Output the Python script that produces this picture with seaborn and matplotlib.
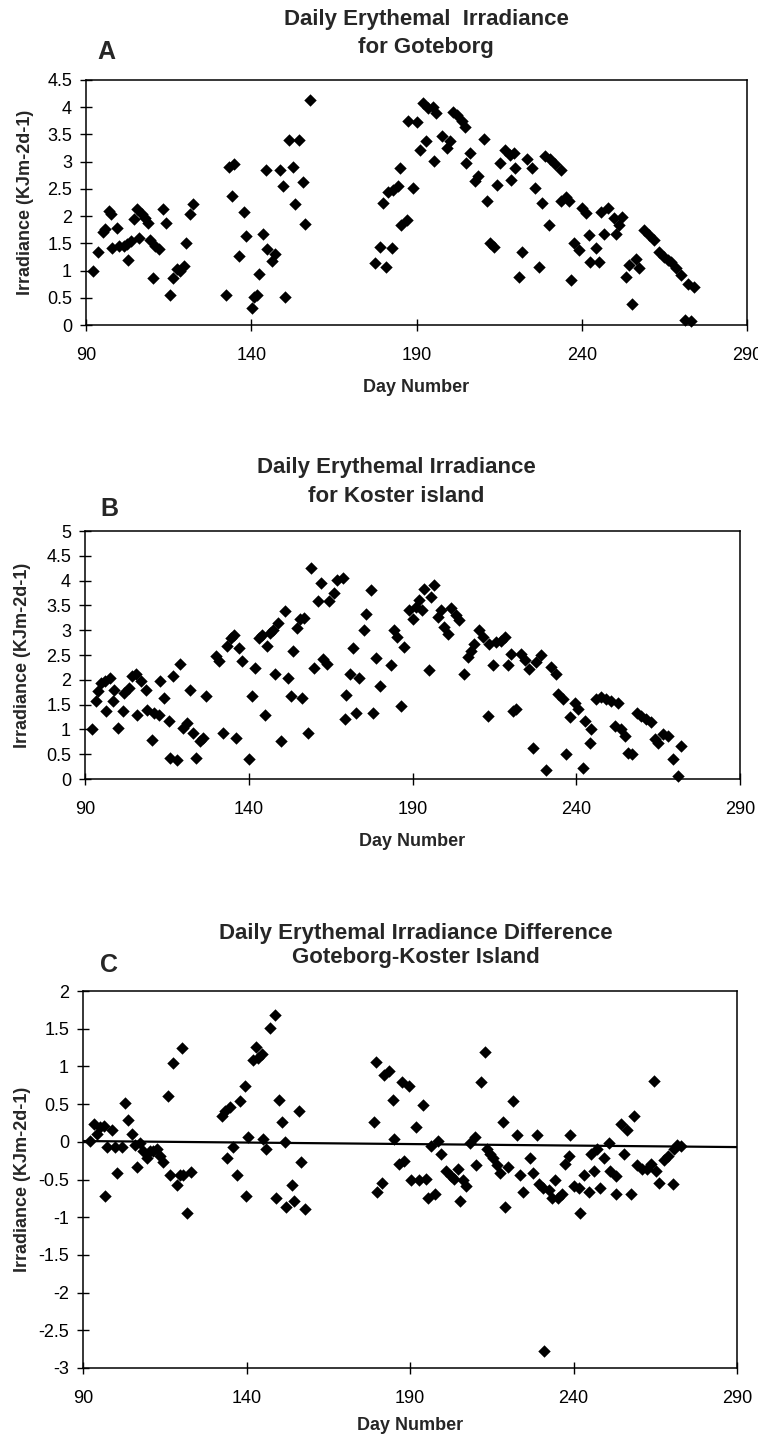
import matplotlib
matplotlib.use("Agg")
import matplotlib.pyplot as plt
import seaborn as sns

# ---- Goteborg daily erythemal irradiance (KJ m-2 d-1) ----
goteborg_day = [
    92.0, 93.5, 95.0, 95.7, 97.0, 97.5, 98.0, 99.5, 100.0, 101.5, 102.5, 102.8,
    103.5, 104.5, 105.5, 106.0, 107.0, 108.0, 108.7, 109.4, 110.4, 111.0, 112.0,
    113.4, 114.2, 115.4, 116.4, 117.4, 118.4, 119.7, 120.4, 121.4, 122.4,
    132.3, 133.3, 134.3, 134.8, 136.3, 137.8, 138.5, 140.3, 140.8, 141.8, 142.3,
    143.5, 144.5, 144.8, 146.3, 147.3, 148.6, 149.6, 150.3, 151.3, 152.7, 153.2,
    154.5, 155.7, 156.2, 157.7,
    177.3, 178.9, 179.9, 180.9, 181.4, 182.6, 182.9, 184.4, 184.9, 185.4, 187.0,
    187.5, 189.0, 190.0, 191.0, 192.0, 193.0, 193.5, 195.0, 195.3, 196.0, 197.6,
    199.1, 200.1, 201.1, 202.2, 203.7, 204.7, 204.9, 206.2, 207.7, 208.7, 210.3,
    211.3, 212.3, 213.3, 214.3, 215.3, 216.8, 218.4, 218.6, 219.4, 219.9, 220.9,
    221.9, 223.4, 224.9, 226.0, 227.0, 228.0, 229.0, 230.0, 230.5, 232.0, 233.6,
    233.8, 235.1, 236.1, 236.6, 237.6, 239.1, 240.2, 241.2, 242.2, 242.4, 244.2,
    245.2, 245.7, 246.7, 247.8, 249.8, 250.3, 251.3, 252.3, 253.3, 254.3, 255.3,
    256.4, 257.4, 258.9, 260.4, 261.9, 263.5, 265.0, 266.0, 267.0, 268.5, 270.0,
    271.1, 272.1, 273.1, 274.1,
]
goteborg_irr = [
    1.00, 1.34, 1.70, 1.76, 2.10, 2.03, 1.42, 1.79, 1.45, 1.45, 1.48, 1.20,
    1.54, 1.94, 2.13, 1.60, 2.03, 1.97, 1.88, 1.57, 0.86, 1.45, 1.39,
    2.13, 1.88, 0.56, 0.86, 1.02, 0.99, 1.08, 1.51, 2.03, 2.22,
    0.56, 2.90, 2.37, 2.95, 1.26, 2.07, 1.63, 0.31, 0.52, 0.56, 0.94,
    1.68, 2.84, 1.39, 1.17, 1.30, 2.84, 2.56, 0.51, 3.39, 2.90, 2.22,
    3.39, 2.63, 1.85, 4.14,
    1.13, 1.44, 2.24, 1.07, 2.45, 1.41, 2.48, 2.55, 2.89, 1.84, 1.93,
    3.75, 2.52, 3.72, 3.22, 4.08, 3.38, 3.98, 4.00, 3.01, 3.90, 3.47,
    3.26, 3.38, 3.92, 3.85, 3.75, 3.63, 2.98, 3.16, 2.64, 2.73, 3.41,
    2.27, 1.50, 1.44, 2.58, 2.98, 3.22, 3.13, 2.67, 3.16, 2.89, 0.88,
    1.34, 3.04, 2.89, 2.52, 1.07, 2.24, 3.10, 1.84, 3.04, 2.95, 2.85,
    2.27, 2.36, 2.27, 0.82, 1.50, 1.37, 2.15, 2.05, 1.65, 1.16, 1.41,
    1.16, 2.08, 1.68, 2.15, 1.96, 1.68, 1.84, 1.99, 0.88, 1.10, 0.39,
    1.22, 1.04, 1.74, 1.65, 1.56, 1.34, 1.25, 1.19, 1.16, 1.04, 0.91,
    0.10, 0.76, 0.07, 0.69,
]

# ---- Koster island daily erythemal irradiance (KJ m-2 d-1) ----
koster_day = [
    92.0, 93.5, 94.0, 95.0, 96.0, 96.5, 97.5, 98.5, 99.0, 100.0, 101.5, 102.0,
    103.5, 104.5, 105.5, 106.0, 107.0, 108.6, 109.0, 110.6, 111.0, 112.6, 113.0,
    114.0, 115.6, 116.0, 117.0, 118.0, 119.0, 119.9, 121.0, 122.0, 123.0, 124.0,
    125.0, 126.0, 127.0, 130.0, 131.0, 132.0, 133.5, 134.5, 135.5, 136.0, 137.0,
    138.0, 140.0, 141.0, 142.0, 143.0, 144.0, 145.0, 145.5, 146.5, 147.5, 148.0,
    149.0, 149.8, 151.0, 152.0, 153.0, 153.6, 154.6, 155.6, 156.2, 157.0, 158.0,
    159.0, 160.0, 161.0, 162.0, 162.7, 164.0, 164.6, 166.0, 167.0, 168.8, 169.3,
    169.8, 170.8, 171.8, 172.8, 173.8, 175.3, 175.8, 177.3, 177.8, 178.8, 180.0,
    183.4, 184.4, 185.4, 186.4, 187.4, 189.0, 190.0, 191.0, 192.0, 193.0, 193.6,
    195.1, 195.6, 196.6, 197.7, 198.7, 199.7, 200.7, 201.7, 203.3, 204.3, 205.8,
    206.8, 207.9, 208.9, 210.4, 211.4, 213.0, 213.5, 214.5, 215.5, 217.0, 218.1,
    219.1, 220.1, 220.6, 221.6, 223.2, 224.2, 225.7, 226.7, 227.8, 229.3, 230.8,
    232.3, 233.9, 234.4, 235.9, 236.9, 238.0, 239.5, 240.5, 242.0, 242.6, 244.1,
    244.6, 246.1, 247.7, 249.2, 250.7, 251.7, 252.8, 253.8, 254.8, 255.8, 256.9,
    258.4, 259.9, 261.4, 262.9, 264.0, 265.0, 266.5, 268.1, 269.6, 271.1, 272.1,
]
koster_irr = [
    1.00, 1.57, 1.77, 1.94, 1.97, 1.37, 2.04, 1.57, 1.80, 1.03, 1.37, 1.74,
    1.84, 2.07, 2.11, 1.30, 1.97, 1.80, 1.40, 0.79, 1.33, 1.30, 1.97,
    1.64, 1.16, 0.42, 2.07, 0.39, 2.31, 1.03, 1.13, 1.80, 0.93, 0.42,
    0.76, 0.83, 1.67, 2.48, 2.38, 0.93, 2.68, 2.85, 2.91, 0.83, 2.64,
    2.38, 0.40, 1.67, 2.24, 2.85, 2.91, 1.30, 2.68, 2.95, 3.01, 2.11,
    3.15, 0.76, 3.38, 2.04, 1.67, 2.58, 3.05, 3.22, 1.64, 3.25, 0.93,
    4.26, 2.24, 3.59, 3.96, 2.41, 2.31, 3.59, 3.76, 4.02, 4.06, 1.20,
    1.70, 2.11, 2.64, 1.33, 2.04, 3.01, 3.32, 3.82, 1.33, 2.44, 1.88,
    2.30, 3.00, 2.86, 1.48, 2.66, 3.40, 3.23, 3.47, 3.61, 3.40, 3.84,
    2.19, 3.67, 3.92, 3.27, 3.40, 3.06, 2.93, 3.44, 3.30, 3.20, 2.12,
    2.46, 2.59, 2.73, 3.00, 2.86, 1.27, 2.73, 2.29, 2.76, 2.79, 2.86,
    2.29, 2.52, 1.38, 1.41, 2.52, 2.39, 2.22, 0.63, 2.36, 2.49, 0.19,
    2.25, 2.12, 1.71, 1.61, 0.50, 1.24, 1.54, 1.41, 0.23, 1.17, 0.73,
    1.00, 1.61, 1.65, 1.61, 1.58, 1.07, 1.54, 1.00, 0.87, 0.53, 0.50,
    1.34, 1.27, 1.21, 1.14, 0.80, 0.73, 0.90, 0.87, 0.40, 0.06, 0.67,
]

# ---- Goteborg minus Koster island (KJ m-2 d-1) ----
diff_day = [
    92.2, 93.3, 94.3, 95.3, 96.3, 96.6, 97.3, 98.8, 99.9, 100.4, 101.9, 102.9,
    103.9, 104.9, 106.0, 106.5, 107.5, 108.5, 109.5, 110.5, 111.5, 112.6, 113.6,
    114.6, 116.1, 116.6, 117.6, 118.7, 119.7, 120.2, 120.7, 121.7, 122.9,
    132.4, 133.4, 133.9, 134.9, 136.0, 137.0, 138.0, 139.5, 139.8, 140.5, 142.0,
    143.0, 143.6, 144.6, 145.1, 146.1, 147.3, 148.6, 148.9, 150.0, 151.0, 151.7,
    152.2, 153.8, 154.4, 156.1, 156.8, 157.8,
    179.1, 179.6, 179.9, 181.5, 182.1, 183.6, 184.7, 185.2, 186.7, 187.7, 188.3,
    189.8, 190.3, 191.8, 192.9, 193.9, 194.9, 195.4, 196.5, 197.5, 198.5, 199.5,
    201.1, 202.6, 203.6, 204.7, 205.2, 206.2, 207.2, 208.3, 209.8, 210.3, 211.8,
    212.9, 213.4, 214.4, 215.4, 216.5, 217.5, 218.5, 219.0, 220.1, 221.6, 222.6,
    223.6, 224.7, 226.7, 227.7, 228.8, 229.3, 230.8, 231.0, 232.4, 233.4, 234.4,
    235.4, 236.5, 237.5, 238.5, 239.0, 240.1, 241.6, 242.1, 243.1, 244.7, 245.2,
    246.2, 247.2, 248.2, 249.3, 250.8, 251.3, 252.9, 253.1, 254.4, 255.4, 256.5,
    257.5, 258.5, 259.5, 261.1, 262.6, 263.6, 264.7, 265.2, 266.2, 267.7, 268.8,
    270.3, 270.8, 271.8, 272.9,
]
diff_irr = [
    0.01, 0.24, 0.11, 0.19, 0.21, -0.72, -0.07, 0.16, -0.07, -0.42, -0.07, 0.51,
    0.29, 0.11, -0.04, -0.34, -0.02, -0.12, -0.22, -0.12, -0.12, -0.09, -0.19,
    -0.27, 0.61, -0.44, 1.04, -0.57, -0.44, 1.24, -0.44, -0.95, -0.40,
    0.34, 0.41, -0.22, 0.46, -0.07, -0.44, 0.54, 0.74, -0.72, 0.06, 1.09,
    1.26, 1.11, 1.16, 0.04, -0.09, 1.51, 1.68, -0.74, 0.56, 0.26, 0.00,
    -0.87, -0.57, -0.79, 0.41, -0.27, -0.89,
    0.26, 1.06, -0.67, -0.55, 0.89, 0.94, 0.56, 0.04, -0.29, 0.79, -0.26,
    0.74, -0.51, 0.19, -0.51, 0.49, -0.49, -0.74, -0.06, -0.69, 0.01, -0.16,
    -0.39, -0.46, -0.49, -0.36, -0.79, -0.51, -0.59, -0.01, 0.06, -0.31, 0.79,
    1.19, -0.09, -0.16, -0.21, -0.31, -0.41, 0.26, -0.86, -0.34, 0.54, 0.09,
    -0.44, -0.66, -0.21, -0.41, 0.09, -0.56, -0.61, -2.77, -0.64, -0.74, -0.51,
    -0.74, -0.69, -0.29, -0.19, 0.09, -0.59, -0.61, -0.94, -0.44, -0.66, -0.16,
    -0.39, -0.09, -0.61, -0.21, -0.01, -0.39, -0.46, -0.69, 0.24, -0.16, 0.16,
    -0.69, 0.34, -0.31, -0.36, -0.36, -0.29, 0.81, -0.39, -0.54, -0.24, -0.19,
    -0.56, -0.09, -0.04, -0.06,
]

# linear trend of the difference series, at the two ends of the day axis
trend_day = [90, 290]
trend_irr = [0.01, -0.07]

x_ticks = [90, 140, 190, 240, 290]
a_yticks = [0, 0.5, 1, 1.5, 2, 2.5, 3, 3.5, 4, 4.5]
b_yticks = [0, 0.5, 1, 1.5, 2, 2.5, 3, 3.5, 4, 4.5, 5]
c_yticks = [-3, -2.5, -2, -1.5, -1, -0.5, 0, 0.5, 1, 1.5, 2]

x_label = "Day Number"
y_label = "Irradiance (KJm-2d-1)"
titles = [
    ["Daily Erythemal  Irradiance", "for Goteborg"],
    ["Daily Erythemal Irradiance", "for Koster island"],
    ["Daily Erythemal Irradiance Difference", "Goteborg-Koster Island"],
]
letters = ["A", "B", "C"]

sns.set_theme(style="ticks")
plt.rcParams["font.family"] = ["Liberation Sans", "DejaVu Sans"]

W, H = 758, 1443
fig = plt.figure(figsize=(W / 100, H / 100), dpi=100)
fig.patch.set_facecolor("white")


def add_px_axes(left, top, right, bottom):
    return fig.add_axes([left / W, 1 - bottom / H, (right - left) / W, (bottom - top) / H])


def fig_text(x, y, s, **kw):
    fig.text(x / W, 1 - y / H, s, ha="center", va="center", **kw)


panels = [
    dict(rect=(86, 80, 747, 325), day=goteborg_day, val=goteborg_irr, yticks=a_yticks,
         title_xy=(426, 19, 47), letter_xy=(106, 52), ylab_x=26, xlab_y=388),
    dict(rect=(85, 531, 740, 779), day=koster_day, val=koster_irr, yticks=b_yticks,
         title_xy=(396, 468, 497), letter_xy=(109, 509), ylab_x=23, xlab_y=842),
    dict(rect=(83, 991, 737, 1368), day=diff_day, val=diff_irr, yticks=c_yticks,
         title_xy=(416, 934, 958), letter_xy=(109, 965), ylab_x=23, xlab_y=1425),
]

for i, p in enumerate(panels):
    left, top, right, bottom = p["rect"]
    ax = add_px_axes(left, top, right, bottom)
    ax.set_facecolor("white")

    if i == 2:
        sns.lineplot(x=trend_day, y=trend_irr, color="black", linewidth=1.6, ax=ax)
    sns.scatterplot(x=p["day"], y=p["val"], marker="D", color="black", s=40,
                    linewidth=0, ax=ax, zorder=3, clip_on=False)

    ax.set_xlim(x_ticks[0], x_ticks[-1])
    ax.set_ylim(p["yticks"][0], p["yticks"][-1])
    ax.set_xticks(x_ticks)
    ax.set_xticklabels([f"{v:g}" for v in x_ticks])
    ax.set_yticks(p["yticks"])
    ax.set_yticklabels([f"{v:g}" for v in p["yticks"]])
    ax.tick_params(axis="both", direction="inout", length=8, width=1.0,
                   color="black", labelsize=13, labelcolor="black")
    ax.tick_params(axis="x", pad=12)
    ax.tick_params(axis="y", pad=6)
    for sp in ax.spines.values():
        sp.set_visible(True)
        sp.set_color("black")
        sp.set_linewidth(1.1)

    ax.set_xlabel(x_label, fontsize=13, fontweight="bold")
    ax.set_ylabel(y_label, fontsize=13, fontweight="bold")
    ax.xaxis.label.set_va("center")
    ax.yaxis.label.set_va("center")
    ax.xaxis.set_label_coords(0.5, -(p["xlab_y"] - bottom) / (bottom - top))
    ax.yaxis.set_label_coords((p["ylab_x"] - left) / (right - left), 0.5)

    tx, ty1, ty2 = p["title_xy"]
    fig_text(tx, ty1, titles[i][0], fontsize=16, fontweight="bold")
    fig_text(tx, ty2, titles[i][1], fontsize=16, fontweight="bold")
    lx, ly = p["letter_xy"]
    fig_text(lx, ly, letters[i], fontsize=18, fontweight="bold")

fig.savefig("out.png", dpi=100, facecolor="white")
